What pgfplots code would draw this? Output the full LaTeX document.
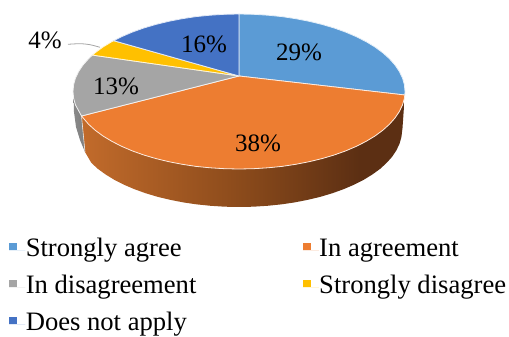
\documentclass[border=0pt]{standalone}
\usepackage{pgfplots}
\pgfplotsset{compat=1.18}
\usepackage{fontspec}
\setmainfont{Liberation Serif}
\definecolor{sliceA}{HTML}{5B9BD5}
\definecolor{sliceB}{HTML}{ED7D31}
\definecolor{sliceC}{HTML}{A5A5A5}
\definecolor{sliceD}{HTML}{FFC000}
\definecolor{sliceE}{HTML}{4472C4}
\definecolor{rimA}{HTML}{C26B2B}
\definecolor{rimB}{HTML}{8A4A1B}
\definecolor{rimC}{HTML}{5C2F13}
\definecolor{greyA}{HTML}{7A7A7A}
\definecolor{greyB}{HTML}{8E8E8E}
\pgfdeclarehorizontalshading{frontwall}{100bp}{color(0bp)=(rimA);color(25bp)=(rimA);color(50bp)=(rimB);color(68bp)=(rimC);color(100bp)=(rimC)}
\pgfdeclarehorizontalshading{leftwall}{100bp}{color(0bp)=(greyB);color(100bp)=(greyA)}
\newcommand{\entry}[1]{\raisebox{4pt}{#1}}
\begin{document}
\begin{tikzpicture}
\begin{axis}[
  scale only axis, width=509pt, height=336pt,
  xmin=0, xmax=509, ymin=0, ymax=336, y dir=reverse,
  hide axis, clip=false,
  legend columns=2,
  legend cell align=left,
  legend image code/.code={\fill[#1,draw=none] (0pt,-1pt) rectangle (8pt,7pt);\path (0pt,0pt) -- (16pt,0pt);},
  legend style={draw=none, fill=none, at={(axis cs:9,238.5)}, anchor=north west,
    inner sep=0pt, outer sep=0pt, row sep=12.9pt, font=\fontsize{26.6}{28}\selectfont,
    nodes={inner sep=0pt},
    /tikz/every even column/.append style={column sep=106pt}},
  every axis plot/.append style={mark=none},
]
\path (axis cs:0,0) rectangle (axis cs:509,336);

% walls of the disc
\addplot[forget plot, shade, shading=leftwall, draw=none] coordinates {
 (73.6,98.3) (75.5,105) (81.5,116) (85,152) (80,140) (76,127) (74,112)} --cycle;
\addplot[forget plot, shade, shading=frontwall, draw=none] coordinates {
 (404.8,95) (404.4,98.3) (402.5,105) (399.3,111.6) (395,118) (389.4,124.3) (382.8,130.25)
 (375,136) (366.2,141.3) (356.4,146.3) (345.7,150.9) (334.2,155) (322,158.6) (309.2,161.7)
 (295.8,164.3) (282,166.4) (267.8,167.8) (253.5,168.7) (239,169) (224.5,168.7) (210.2,167.8)
 (196,166.4) (182.2,164.3) (168.8,161.7) (156,158.6) (143.8,155) (132.3,150.9) (121.6,146.3)
 (111.8,141.3) (103,136) (95.2,130.25) (88.6,124.3) (81.5,116)
 (85,152) (91.3,162.8) (97.8,168.8) (105.5,174.4) (114.1,179.7) (123.7,184.6) (134.2,189.1)
 (145.5,193.2) (157.5,196.8) (170.1,199.8) (183.3,202.4) (196.8,204.4) (210.7,205.8)
 (224.8,206.7) (239,207) (253.2,206.7) (267.3,205.8) (281.2,204.4) (294.7,202.4) (307.9,199.8)
 (320.5,196.8) (332.5,193.2) (343.8,189.1) (354.3,184.6) (363.9,179.7) (372.5,174.4)
 (380.2,168.8) (386.7,162.8) (392.2,156.7) (396.4,150.3) (399.5,143.8) (401.4,137.2) (402.5,128)
} --cycle;
\addplot[forget plot, draw=white!80!gray, line width=0.6pt] coordinates {(81.5,116) (85,152)};

% top face, one slice per answer
\addplot[fill=sliceA, draw=white!85!sliceA, line width=0.8pt] coordinates {
 (239,76) (239,14) (253.5,14.3) (267.8,15.2) (282,16.6) (295.8,18.7) (309.2,21.3) (322,24.4)
 (334.2,28) (345.7,32.1) (356.4,36.7) (366.2,41.7) (375,47) (382.8,52.75) (389.4,58.7) (395,65)
 (399.3,71.4) (402.5,78) (404.4,84.7) (405,91.5) (404.8,95)} --cycle;
\addlegendentry{\entry{Strongly agree}}
\addplot[fill=sliceB, draw=white!85!sliceB, line width=0.8pt] coordinates {
 (239,76) (404.8,95) (404.4,98.3) (402.5,105) (399.3,111.6) (395,118) (389.4,124.3) (382.8,130.25)
 (375,136) (366.2,141.3) (356.4,146.3) (345.7,150.9) (334.2,155) (322,158.6) (309.2,161.7)
 (295.8,164.3) (282,166.4) (267.8,167.8) (253.5,168.7) (239,169) (224.5,168.7) (210.2,167.8)
 (196,166.4) (182.2,164.3) (168.8,161.7) (156,158.6) (143.8,155) (132.3,150.9) (121.6,146.3)
 (111.8,141.3) (103,136) (95.2,130.25) (88.6,124.3) (81.5,116)} --cycle;
\addlegendentry{\entry{In agreement}}
\addplot[fill=sliceC, draw=white!85!sliceC, line width=0.8pt] coordinates {
 (239,76) (81.5,116) (75.5,105) (73.6,98.3) (73,91.5) (73.6,84.7) (75.5,78) (78.7,71.4) (83,65)
 (88.6,58.7) (92.4,55.1)} --cycle;
\addlegendentry{\entry{In disagreement}}
\addplot[fill=sliceD, draw=white!85!sliceD, line width=0.8pt] coordinates {
 (239,76) (92.4,55.1) (95.2,52.75) (103,47) (111.8,41.7) (113.7,40.7)} --cycle;
\addlegendentry{\entry{Strongly disagree}}
\addplot[fill=sliceE, draw=white!85!sliceE, line width=0.8pt] coordinates {
 (239,76) (113.7,40.7) (121.6,36.7) (132.3,32.1) (143.8,28) (156,24.4) (168.8,21.3) (182.2,18.7)
 (196,16.6) (210.2,15.2) (224.5,14.3) (239,14)} --cycle;
\addlegendentry{\entry{Does not apply}}

% leader of the small slice
\addplot[forget plot, smooth, draw=sliceC, line width=0.8pt] coordinates {
 (68,44.3) (80,43.7) (90,44.7) (100,47.3)};

% percentage labels
\begin{scope}[every node/.style={font=\fontsize{25}{28}\selectfont, inner sep=0pt, text=black}]
\node at (axis cs:299,52) {29\%};
\node at (axis cs:258,143) {38\%};
\node at (axis cs:116,86) {13\%};
\node at (axis cs:45,40) {4\%};
\node at (axis cs:204,44) {16\%};
\end{scope}
\end{axis}
\end{tikzpicture}
\end{document}
